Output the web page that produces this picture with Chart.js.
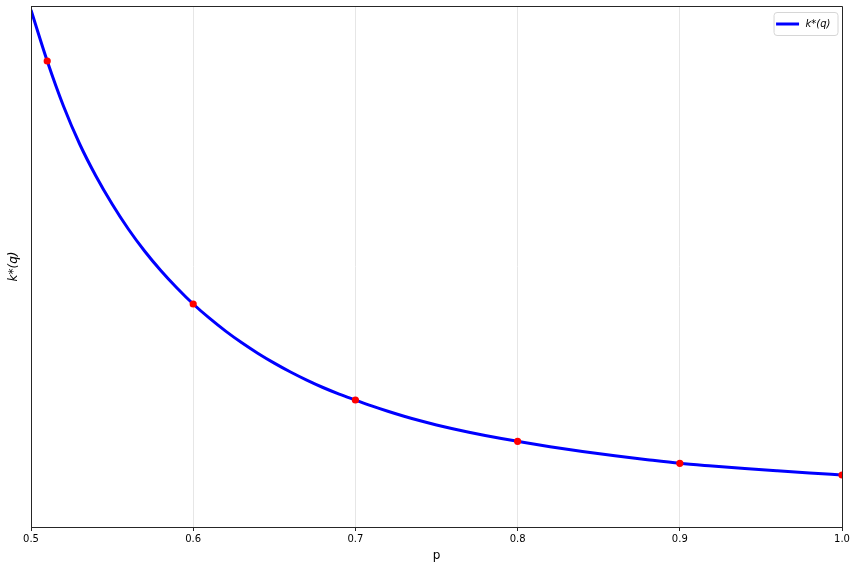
<!DOCTYPE html>
<html><head><meta charset="utf-8">
<script src="https://cdn.jsdelivr.net/npm/chart.js@4.4.1/dist/chart.umd.min.js"></script>
<style>html,body{margin:0;padding:0;background:#fff}canvas{display:block}</style>
</head><body>
<canvas id="c" width="856" height="568"></canvas>
<script>
// curve samples (arbitrary y units, axis has no tick labels)
const pValues = [0.50,0.51,0.52,0.53,0.54,0.55,0.56,0.57,0.58,0.59,0.60,0.61,0.62,0.63,0.64,0.65,0.66,0.67,0.68,0.69,0.70,0.71,0.72,0.73,0.74,0.75,0.76,0.77,0.78,0.79,0.80,0.82,0.84,0.86,0.88,0.90,0.92,0.94,0.96,0.98,1.00];
const kValues = [517,466,421,383,351,323,298,276,256.5,239,223,208.8,195.9,184.2,173.6,163.9,155,146.9,139.5,132.9,127,121.2,115.8,110.8,106.2,102,98.2,94.7,91.5,88.5,85.7,80.3,75.5,71.2,67.3,63.7,61.0,58.5,56.2,54.0,52.0];
// red markers
const markerP = [0.51,0.6,0.7,0.8,0.9,1.0];
const markerK = [466,223,127,85.7,63.7,52];
// axis ticks
const xTickValues = [0.5,0.6,0.7,0.8,0.9,1.0];
const seriesLabel = 'k*(q)';
const xTitle = 'p';
const yTitle = 'k*(q)';

const framePlugin = {
  id: 'frame',
  afterDatasetsDraw(chart) {
    const {ctx, chartArea: a} = chart;
    ctx.save();
    ctx.strokeStyle = '#262626';
    ctx.lineWidth = 1;
    const l = Math.round(a.left) + 0.5, r = Math.round(a.right) + 0.5;
    const t = Math.round(a.top) + 0.5, b = Math.round(a.bottom) + 0.5;
    ctx.beginPath();
    ctx.moveTo(l, b); ctx.lineTo(l, t); ctx.lineTo(r, t); ctx.lineTo(r, b); ctx.lineTo(l, b);
    ctx.stroke();
    ctx.restore();
  }
};

const legendPlugin = {
  id: 'innerLegend',
  afterDraw(chart) {
    const {ctx, chartArea: a} = chart;
    const ds = chart.data.datasets.find(d => d.label === seriesLabel);
    ctx.save();
    ctx.font = 'italic 10px "DejaVu Sans"';
    const tw = ctx.measureText(ds.label).width;
    const pad = 2.5, lineLen = 23, gap = 6.5, padR = 7;
    const w = pad + lineLen + gap + tw + padR;
    const h = 23;
    const x0 = a.right - 4.5 - w, y0 = a.top + 6;
    ctx.beginPath();
    if (ctx.roundRect) ctx.roundRect(x0 + 0.5, y0 + 0.5, w, h, 3); else ctx.rect(x0 + 0.5, y0 + 0.5, w, h);
    ctx.fillStyle = 'rgba(255,255,255,0.8)';
    ctx.fill();
    ctx.strokeStyle = '#d6d6d6';
    ctx.lineWidth = 1;
    ctx.stroke();
    const cy = y0 + h / 2 + 0.5;
    ctx.beginPath();
    ctx.moveTo(x0 + pad, cy);
    ctx.lineTo(x0 + pad + lineLen, cy);
    ctx.strokeStyle = ds.borderColor;
    ctx.lineWidth = ds.borderWidth;
    ctx.stroke();
    ctx.fillStyle = '#000';
    ctx.textBaseline = 'middle';
    ctx.textAlign = 'left';
    ctx.fillText(ds.label, x0 + pad + lineLen + gap, cy);
    ctx.restore();
  }
};

new Chart(document.getElementById('c').getContext('2d'), {
  type: 'line',
  data: {
    datasets: [
      {
        type: 'scatter',
        label: 'points',
        data: markerP.map((p, i) => ({x: p, y: markerK[i]})),
        pointRadius: 3.6,
        pointBackgroundColor: '#ff0000',
        pointBorderColor: '#ff0000',
        pointBorderWidth: 0,
        showLine: false,
        order: 0,
        clip: 0
      },
      {
        label: seriesLabel,
        data: pValues.map((p, i) => ({x: p, y: kValues[i]})),
        borderColor: '#0000ff',
        borderWidth: 3,
        pointRadius: 0,
        cubicInterpolationMode: 'monotone',
        fill: false,
        order: 1,
        clip: 0
      }
    ]
  },
  options: {
    responsive: false,
    animation: false,
    devicePixelRatio: 1,
    layout: {padding: {top: 6, right: 14, left: 0, bottom: 0}},
    plugins: {legend: {display: false}, tooltip: {enabled: false}},
    scales: {
      x: {
        type: 'linear', min: 0.5, max: 1.0,
        afterBuildTicks: s => { s.ticks = xTickValues.map(v => ({value: v})); },
        ticks: {callback: v => Number(v).toFixed(1), font: {family: 'DejaVu Sans', size: 10}, color: '#000', padding: 2, maxRotation: 0, autoSkip: false},
        grid: {color: '#e6e6e6', tickColor: '#262626', tickLength: 4, lineWidth: 1},
        border: {color: '#262626', width: 1},
        title: {display: true, text: xTitle, font: {family: 'DejaVu Sans', size: 12}, color: '#000', padding: {top: 0, bottom: 5}},
        afterFit: s => { s.height = 41; }
      },
      y: {
        type: 'linear', min: 0, max: 521,
        ticks: {display: false},
        grid: {display: false},
        border: {color: '#262626', width: 1},
        title: {display: true, text: yTitle, font: {family: 'DejaVu Sans', size: 12, style: 'italic'}, color: '#000', padding: {top: 7, bottom: 0}},
        afterFit: s => { s.width = 31; }
      }
    }
  },
  plugins: [framePlugin, legendPlugin]
});
</script>
</body></html>
